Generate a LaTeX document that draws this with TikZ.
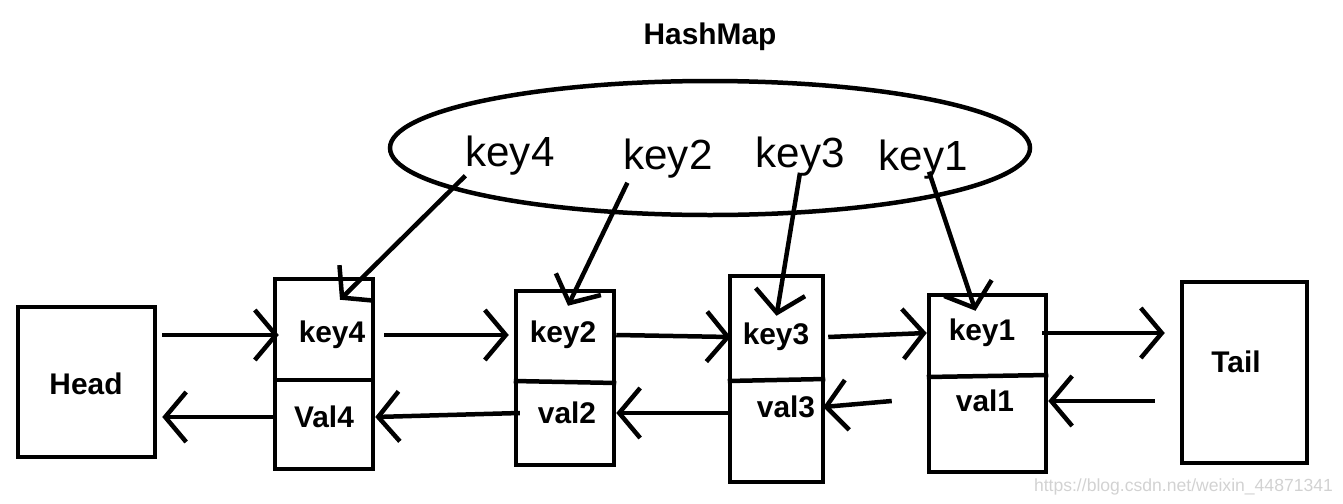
\documentclass[tikz,border=0pt]{standalone}
\usepackage{fontspec}
\setmainfont{Liberation Sans}
\usetikzlibrary{arrows.meta,shapes.geometric,calc}

\begin{document}
\begin{tikzpicture}[x=0.02cm, y=-0.02cm, line width=0.09cm,
    box node/.style={rectangle, draw, inner sep=0pt},
    key text/.style={font=\fontsize{17}{19}\selectfont\bfseries},
    hand text/.style={font=\fontsize{24}{26}\selectfont},
    arr/.style={-{Straight Barb[length=0.42cm, width=1cm, line width=0.09cm]}}]

\useasboundingbox (0,0) rectangle (1343,504);

\node[key text] (title) at (710,37) {HashMap};
\node[ellipse, draw, minimum width=640*0.02cm, minimum height=134*0.02cm](map) at (710,148) {};

\node[hand text] (h4) at (510,156) {key4};
\node[hand text] (h2) at (668,159) {key2};
\node[hand text] (h3) at (800,157) {key3};
\node[hand text] (h1) at (923,160) {key1};

\node[box node, minimum width=137*0.02cm, minimum height=150*0.02cm](head) at (86.5,382) {};
\node[box node, minimum width=98*0.02cm, minimum height=190*0.02cm](n4) at (324,374) {};
\node[box node, minimum width=98*0.02cm, minimum height=174*0.02cm](n2) at (565,378) {};
\node[box node, minimum width=93*0.02cm, minimum height=206*0.02cm](n3) at (776.5,379) {};
\node[box node, minimum width=117*0.02cm, minimum height=177*0.02cm](n1) at (987.5,383.5) {};
\node[box node, minimum width=125*0.02cm, minimum height=181*0.02cm](tail) at (1244.5,372.5) {};

\draw (n4.west |- 0,380) -- (n4.east |- 0,380);
\draw (n2.west |- 0,381) -- (n2.east |- 0,383);
\draw (n3.west |- 0,381) -- (n3.east |- 0,379);
\draw (n1.west |- 0,377) -- (n1.east |- 0,375);

\node[key text] (hd) at (86,384) {Head};
\node[key text] (tl) at (1236,362) {Tail};
\node[key text] (k4) at (332,335) {key4};
\node[key text] (v4) at (324,417) {Val4};
\node[key text] (k2) at (563,335) {key2};
\node[key text] (v2) at (567,413) {val2};
\node[key text] (k3) at (776,337) {key3};
\node[key text] (v3) at (786,407) {val3};
\node[key text] (k1) at (982,333) {key1};
\node[key text] (v1) at (985,401) {val1};

% next links
\draw[arr] ([xshift=0.1cm]head.east |- k4) -- ([xshift=0.12cm]n4.west |- k4);
\draw[arr] ([xshift=0.18cm]n4.east |- k4) -- ([xshift=-0.1cm]n2.west |- k2);
\draw[arr] (n2.east |- k2) -- ([xshift=0.06cm]n3.west |- k3);
\draw[arr] ([xshift=0.06cm]n3.east |- k3) -- (n1.west |- k1);
\draw[arr] ([xshift=-0.12cm]n1.east |- k1) -- ([xshift=-0.3cm]tail.west |- k1);

% prev links
\draw[arr] ([xshift=-0.5cm]tail.west |- v1) -- (n1.east |- v1);
\draw[arr] ([xshift=-0.7cm]n1.west |- v1) -- (v3.east);
\draw[arr] (n3.west |- v2) -- (n2.east |- v2);
\draw[arr] ([xshift=-0.2cm]v2.west) -- (n4.east |- v4);
\draw[arr] (n4.west |- v4) -- ([xshift=0.1cm]head.east |- v4);

% map entries
\draw[arr] ($(h4.south west)+(8,-8)$) -- ($(n4.north)+(16,23)$);
\draw[arr] ($(h2.south west)+(12,-4)$) -- ($(n2.north)+(3,17)$);
\draw[arr] ($(h3.south)+(0,-12)$) -- ($(n3.north)+(0,42)$);
\draw[arr] ($(h1.south)+(6,-16)$) -- ($(n1.north)+(-12,18)$);

\node[text=gray!35, font=\fontsize{10}{12}\selectfont, anchor=east] (wm) at (1341,487) {https://blog.csdn.net/weixin\_44871341};

\end{tikzpicture}
\end{document}
